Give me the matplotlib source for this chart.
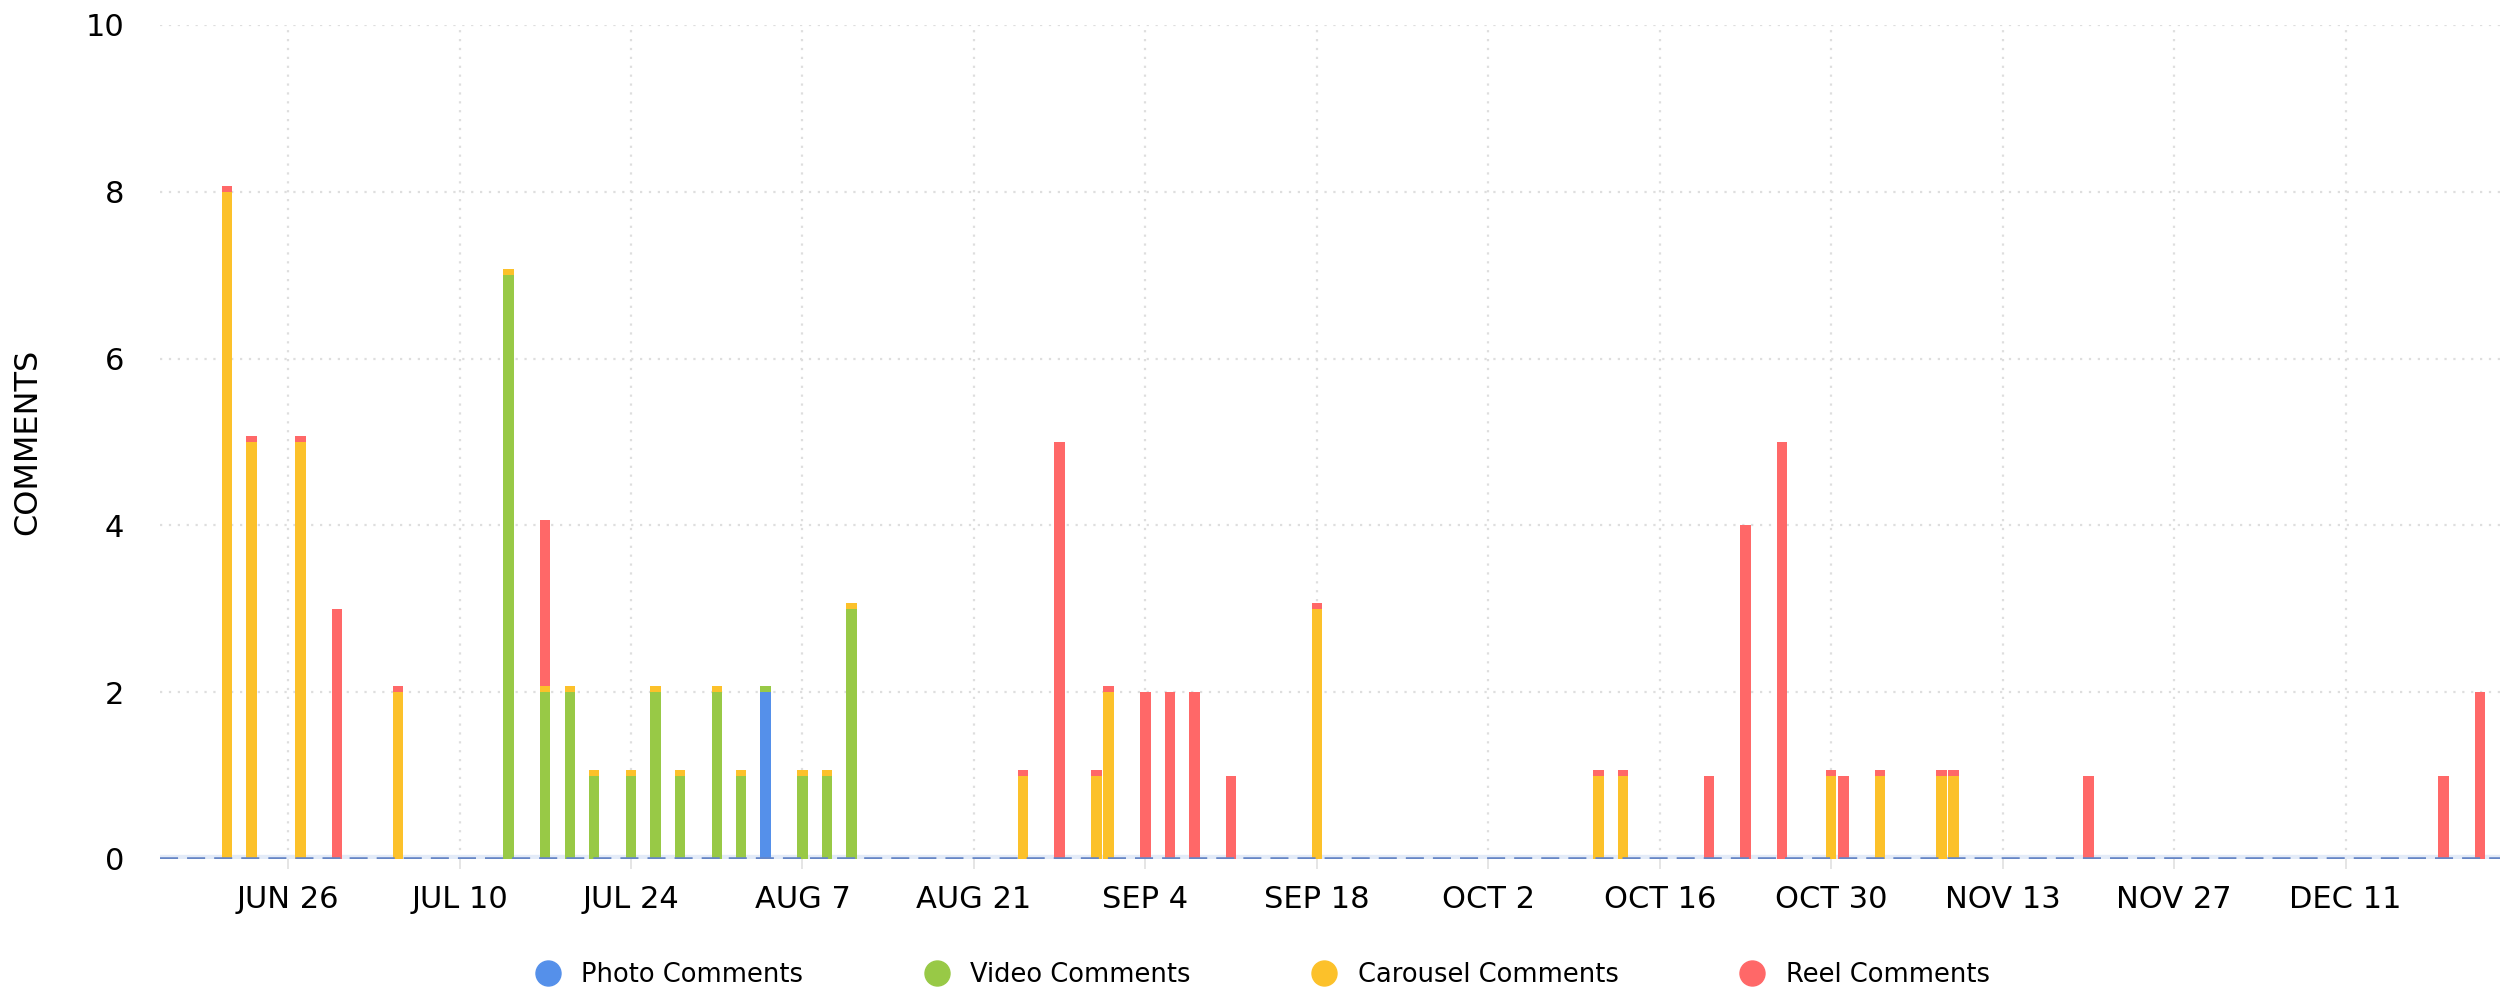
import datetime as dt

import matplotlib
matplotlib.use("Agg")
import matplotlib.pyplot as plt
from matplotlib.lines import Line2D

# tiny sliver drawn on top of a bar for the next (empty) series
T = 0.07

dates = ["2023-06-21", "2023-06-23", "2023-06-27", "2023-06-30", "2023-07-05",
         "2023-07-14", "2023-07-17", "2023-07-19", "2023-07-21", "2023-07-24",
         "2023-07-26", "2023-07-28", "2023-07-31", "2023-08-02", "2023-08-04",
         "2023-08-07", "2023-08-09", "2023-08-11", "2023-08-25", "2023-08-28",
         "2023-08-31", "2023-09-01", "2023-09-04", "2023-09-06", "2023-09-08",
         "2023-09-11", "2023-09-18", "2023-10-11", "2023-10-13", "2023-10-20",
         "2023-10-23", "2023-10-26", "2023-10-30", "2023-10-31", "2023-11-03",
         "2023-11-08", "2023-11-09", "2023-11-20", "2023-12-19", "2023-12-22"]

photo = [0, 0, 0, 0, 0,
         0, 0, 0, 0, 0,
         0, 0, 0, 0, 2,
         0, 0, 0, 0, 0,
         0, 0, 0, 0, 0,
         0, 0, 0, 0, 0,
         0, 0, 0, 0, 0,
         0, 0, 0, 0, 0]
video = [0, 0, 0, 0, 0,
         7, 2, 2, 1, 1,
         2, 1, 2, 1, T,
         1, 1, 3, 0, 0,
         0, 0, 0, 0, 0,
         0, 0, 0, 0, 0,
         0, 0, 0, 0, 0,
         0, 0, 0, 0, 0]
carousel = [8, 5, 5, 0, 2,
            T, T, T, T, T,
            T, T, T, T, 0,
            T, T, T, 1, 0,
            1, 2, 0, 0, 0,
            0, 3, 1, 1, 0,
            0, 0, 1, 0, 1,
            1, 1, 0, 0, 0]
reel = [T, T, T, 3, T,
        0, 2, 0, 0, 0,
        0, 0, 0, 0, 0,
        0, 0, 0, T, 5,
        T, T, 2, 2, 2,
        1, T, T, T, 1,
        4, 5, T, 1, T,
        T, T, 1, 1, 2]

series_names = ["Photo Comments", "Video Comments", "Carousel Comments", "Reel Comments"]
colors = ["#5590EA", "#98C946", "#FCC12A", "#FF6868"]

tick_dates = ["2023-06-26", "2023-07-10", "2023-07-24", "2023-08-07", "2023-08-21",
              "2023-09-04", "2023-09-18", "2023-10-02", "2023-10-16", "2023-10-30",
              "2023-11-13", "2023-11-27", "2023-12-11"]
tick_labels = ["JUN 26", "JUL 10", "JUL 24", "AUG 7", "AUG 21", "SEP 4", "SEP 18",
               "OCT 2", "OCT 16", "OCT 30", "NOV 13", "NOV 27", "DEC 11"]

x = [dt.datetime.strptime(d, "%Y-%m-%d") for d in dates]
ticks = [dt.datetime.strptime(d, "%Y-%m-%d") for d in tick_dates]

plt.rcParams['font.size'] = 22
fig = plt.figure(figsize=(25.17, 10), dpi=100)
ax = fig.add_axes([0.0636, 0.141, 0.9296, 0.834])

bottom = [0] * len(x)
for vals, col in zip([photo, video, carousel, reel], colors):
    ax.bar(x, vals, width=0.85, bottom=bottom, color=col, zorder=3, linewidth=0)
    bottom = [b + v for b, v in zip(bottom, vals)]

# zero line of the photo series
ax.axhline(0, color="#e3ebf8", lw=6, zorder=2)
ax.axhline(0, color="#6686c6", lw=2.6, ls=(0, (5, 2.5)), zorder=4)

ax.set_ylim(0, 10)
x0 = ticks[0] - dt.timedelta(days=10.45)
x1 = ticks[0] + dt.timedelta(days=180.6)
ax.set_xlim(x0, x1)
ax.set_yticks([0, 2, 4, 6, 8, 10])
ax.set_xticks(ticks)
ax.set_xticklabels(tick_labels)

ax.grid(True, color="#dedede", lw=1.6, ls=(0, (1, 3)), zorder=0)
for s in ax.spines.values():
    s.set_visible(False)
ax.tick_params(axis="y", length=0, pad=26, labelsize=22)
ax.tick_params(axis="x", length=7, width=1.2, color="#e0e0e0", pad=12, labelsize=22)

ax.set_ylabel("COMMENTS", fontsize=23, labelpad=30)

handles = [Line2D([], [], marker="o", ls="", markersize=18, color=c) for c in colors]
fig.legend(handles, series_names, loc="center", bbox_to_anchor=(0.499, 0.025), ncol=4,
           frameon=False, fontsize=18.5, handletextpad=0.3, columnspacing=4.2)

fig.savefig("out.png", dpi=100)
